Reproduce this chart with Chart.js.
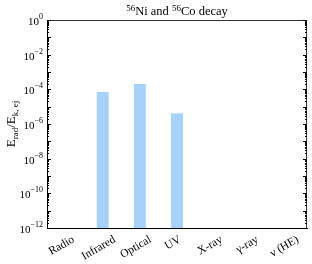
<!DOCTYPE html>
<html><head><meta charset="utf-8">
<script src="https://cdn.jsdelivr.net/npm/chart.js@4.4.1/dist/chart.umd.min.js"></script>
<style>html,body{margin:0;padding:0;background:#fff}#wrap{width:312px;height:264px}</style>
</head><body><div id="wrap"><canvas id="c" width="312" height="264"></canvas></div>
<script>
const categories = ['Radio','Infrared','Optical','UV','X-ray','\u03b3-ray','\u03bd (HE)'];
const erad = [null, 7e-5, 2e-4, 4.2e-6, null, null, null];
const yTickExponents = [0,-2,-4,-6,-8,-10,-12];
const titleParts = [['56','sup'],['Ni and ',''],['56','sup'],['Co decay','']];

const SERIF = '"Liberation Serif", "DejaVu Serif", serif';

const deco = {
  id: 'deco',
  afterDraw(chart) {
    const ctx = chart.ctx, a = chart.chartArea;
    const y = chart.scales.y, x = chart.scales.x;
    ctx.save();
    ctx.strokeStyle = '#333'; ctx.lineWidth = 1;
    ctx.beginPath();
    ctx.moveTo(a.left, a.top + 0.5); ctx.lineTo(a.right, a.top + 0.5);
    ctx.moveTo(a.right - 0.5, a.top); ctx.lineTo(a.right - 0.5, a.bottom);
    ctx.stroke();
    ctx.strokeStyle = '#000';
    ctx.beginPath();
    for (let k = -12; k <= 0; k++) {
      for (let m = 1; m <= 9; m++) {
        if (k === 0 && m > 1) break;
        const v = m * Math.pow(10, k);
        const py = Math.round(y.getPixelForValue(v)) + 0.5;
        const len = m === 1 ? 4 : 2;
        ctx.moveTo(a.left, py); ctx.lineTo(a.left + len, py);
        ctx.moveTo(a.right, py); ctx.lineTo(a.right - len, py);
      }
    }
    ctx.stroke();
    ctx.fillStyle = '#000';
    yTickExponents.forEach(e => {
      const py = y.getPixelForValue(Math.pow(10, e));
      const sup = e === 0 ? '0' : '\u2212' + Math.abs(e);
      ctx.font = '8px ' + SERIF;
      const sw = ctx.measureText(sup).width;
      const right = a.left - 4;
      ctx.textBaseline = 'alphabetic';
      ctx.textAlign = 'left';
      ctx.fillText(sup, right - sw, py - 1);
      ctx.font = '11px ' + SERIF;
      ctx.textAlign = 'right';
      ctx.fillText('10', right - sw, py + 5);
    });
    ctx.font = '11.5px ' + SERIF;
    const ang = -30 * Math.PI / 180;
    categories.forEach((c, i) => {
      const px = x.getPixelForValue(i);
      const w = ctx.measureText(c).width, h = 11;
      const bh = w * Math.sin(-ang) + h * Math.cos(ang);
      const cx = px - 4, cy = a.bottom + 6 + bh / 2;
      ctx.save();
      ctx.translate(cx, cy); ctx.rotate(ang);
      ctx.textAlign = 'center'; ctx.textBaseline = 'middle';
      ctx.fillText(c, 0, 0);
      ctx.restore();
    });
    let tw = 0;
    titleParts.forEach(([t, s]) => { ctx.font = (s ? '9px ' : '12.5px ') + SERIF; tw += ctx.measureText(t).width; });
    let tx = (a.left + a.right) / 2 - tw / 2;
    ctx.textAlign = 'left'; ctx.textBaseline = 'alphabetic';
    titleParts.forEach(([t, s]) => {
      ctx.font = (s ? '9px ' : '12.5px ') + SERIF;
      ctx.fillText(t, tx, s ? 11 : 15);
      tx += ctx.measureText(t).width;
    });
    const yparts = [['E',''],['rad','sub'],['/E',''],['k, ej','sub']];
    let yw = 0;
    yparts.forEach(([t, s]) => { ctx.font = (s ? '9px ' : '13px ') + SERIF; yw += ctx.measureText(t).width; });
    ctx.save();
    ctx.translate(15, (a.top + a.bottom) / 2);
    ctx.rotate(-Math.PI / 2);
    let yx = -yw / 2;
    yparts.forEach(([t, s]) => {
      ctx.font = (s ? '9px ' : '13px ') + SERIF;
      ctx.fillText(t, yx, s ? 2.5 : 0);
      yx += ctx.measureText(t).width;
    });
    ctx.restore();
    ctx.restore();
  }
};

new Chart(document.getElementById('c'), {
  type: 'bar',
  data: { labels: categories, datasets: [{ data: erad, backgroundColor: '#a6d1fb', borderWidth: 0, barPercentage: 0.64, categoryPercentage: 0.5 }] },
  options: {
    responsive: false, animation: false, devicePixelRatio: 1,
    layout: { padding: { left: 47, top: 20, right: 5, bottom: 36 } },
    plugins: { legend: { display: false }, tooltip: { enabled: false }, title: { display: false } },
    scales: {
      x: { display: true, offset: true, grid: { display: false, drawTicks: false }, ticks: { display: false }, border: { display: true, color: '#000', width: 1 } },
      y: { type: 'logarithmic', display: true, min: 1e-12, max: 1, grid: { display: false, drawTicks: false }, ticks: { display: false }, border: { display: true, color: '#000', width: 1 } }
    }
  },
  plugins: [deco]
});
</script></body></html>
